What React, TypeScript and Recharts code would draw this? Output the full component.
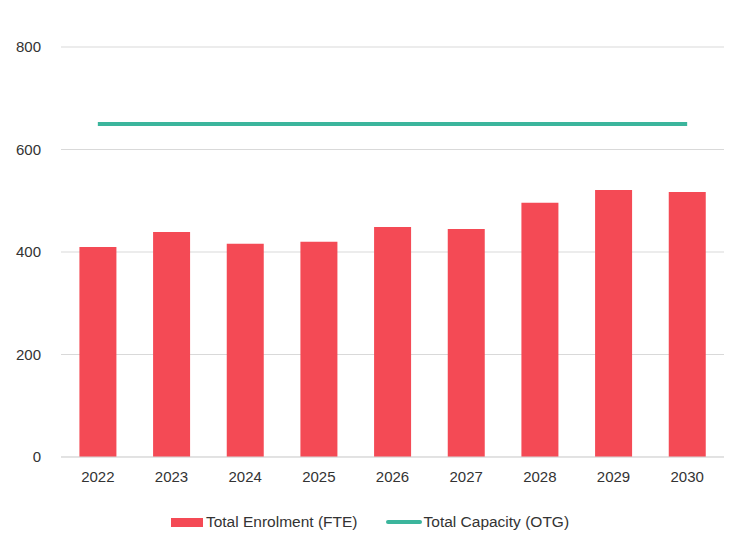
import React from "react";
import {
  ComposedChart,
  Bar,
  Line,
  XAxis,
  YAxis,
  CartesianGrid,
  Legend,
} from "recharts";

const years = ["2022", "2023", "2024", "2025", "2026", "2027", "2028", "2029", "2030"];
const enrolment = [410, 439, 416, 420, 449, 445, 496, 521, 517];
const capacity = [650, 650, 650, 650, 650, 650, 650, 650, 650];
const yTicks = [0, 200, 400, 600, 800];

const data = years.map((year, i) => ({
  year,
  enrolment: enrolment[i],
  capacity: capacity[i],
}));

const RED = "#F44A55";
const TEAL = "#3BB59C";
const FONT = "'Liberation Sans', Arial, Helvetica, sans-serif";

function LegendContent() {
  return (
    <div
      style={{
        display: "flex",
        justifyContent: "center",
        alignItems: "center",
        height: 20,
        fontFamily: FONT,
        fontSize: 15.5,
        color: "#333",
      }}
    >
      <span style={{ display: "inline-block", width: 32, height: 9, background: RED, marginRight: 3 }} />
      <span>Total Enrolment (FTE)</span>
      <span style={{ display: "inline-block", width: 36, height: 4, background: TEAL, marginLeft: 28, marginRight: 2, borderRadius: 2 }} />
      <span>Total Capacity (OTG)</span>
    </div>
  );
}

export default function App() {
  return (
    <div style={{ position: "absolute", left: 0, top: 0, background: "#fff" }}>
      <ComposedChart
        width={740}
        height={545}
        data={data}
        margin={{ top: 47, right: 16, left: 0, bottom: 38 }}
        barCategoryGap="25%"
      >
        <CartesianGrid vertical={false} stroke="#d9d9d9" />
        <XAxis
          dataKey="year"
          height={30}
          axisLine={{ stroke: "#d9d9d9" }}
          tickLine={false}
          tick={{ fill: "#333", fontSize: 15, fontFamily: FONT }}
          tickMargin={8}
        />
        <YAxis
          width={61}
          domain={[0, 800]}
          ticks={yTicks}
          axisLine={false}
          tickLine={false}
          tick={{ fill: "#333", fontSize: 15, fontFamily: FONT }}
          tickMargin={14}
        />
        <Legend
          content={<LegendContent />}
          wrapperStyle={{ top: 512, left: 0, width: 740, height: 20 }}
        />
        <Bar dataKey="enrolment" name="Total Enrolment (FTE)" fill={RED} isAnimationActive={false} />
        <Line
          dataKey="capacity"
          name="Total Capacity (OTG)"
          stroke={TEAL}
          strokeWidth={4}
          dot={false}
          activeDot={false}
          isAnimationActive={false}
        />
      </ComposedChart>
    </div>
  );
}
